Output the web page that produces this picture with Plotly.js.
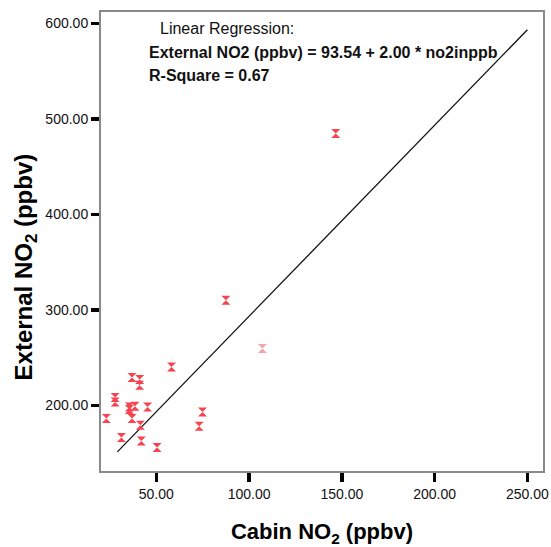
<!DOCTYPE html>
<html>
<head>
<meta charset="utf-8">
<script src="https://cdn.plot.ly/plotly-3.0.1.min.js"></script>
<style>html,body{margin:0;padding:0;background:#fff;}#chart{width:551px;height:547px;}</style>
</head>
<body>
<div id="chart"></div>
<script>
// Data
const cabinNO2 = [146.7, 87.5, 107.2, 58.2, 36.9, 41.0, 41.0, 27.8, 27.8, 35.5, 35.5, 38.5, 45.3, 23.1, 36.9, 41.4, 31.2, 41.9, 50.4, 74.9, 73.1];
const externalNO2 = [484.8, 310.3, 259.7, 240.4, 229.3, 227.2, 221.3, 208.4, 203.8, 198.5, 195.8, 199.3, 198.5, 186.4, 186.4, 179.4, 166.5, 162.9, 156.0, 193.3, 178.3];
const pointColors = ['#f6434f','#f6434f','#f5a3aa','#f6434f','#f6434f','#f6434f','#f6434f','#f6434f','#f6434f','#f6434f','#f6434f','#f6434f','#f6434f','#f6434f','#f6434f','#f6434f','#f6434f','#f6434f','#f6434f','#f6434f','#f6434f'];
const intercept = 93.54;
const slope = 2.00;
const rSquare = 0.67;
const fitX = [29, 250];
const xTicks = [50, 100, 150, 200, 250];
const yTicks = [200, 300, 400, 500, 600];

const fitY = fitX.map(v => intercept + slope * v);

const traces = [
  {
    x: fitX, y: fitY, mode: 'lines', type: 'scatter',
    line: {color: '#111', width: 1.3}, hoverinfo: 'skip', showlegend: false
  },
  {
    x: cabinNO2, y: externalNO2, mode: 'markers', type: 'scatter',
    marker: {symbol: 'hourglass', size: 9, color: pointColors, line: {width: 0}},
    showlegend: false
  }
];

const font = 'Liberation Sans, Arial, sans-serif';
const layout = {
  width: 551, height: 547,
  margin: {l: 101, r: 8, t: 12, b: 76},
  paper_bgcolor: '#fff', plot_bgcolor: '#fff',
  font: {family: font, color: '#111', size: 14},
  showlegend: false,
  xaxis: {
    range: [20.2, 258.4], tickvals: xTicks, ticktext: xTicks.map(v => v.toFixed(2)),
    ticks: 'outside', ticklen: 9, tickwidth: 3.5, tickcolor: '#000',
    showgrid: false, zeroline: false,
    showline: true, mirror: true, linecolor: '#8a8a8a', linewidth: 2,
    tickfont: {family: font, size: 14, color: '#111'},
    title: {text: '<b>Cabin NO<sub>2</sub> (ppbv)</b>', font: {family: font, size: 22, color: '#000'}}
  },
  yaxis: {
    range: [131.5, 612.1], tickvals: yTicks, ticktext: yTicks.map(v => v.toFixed(2)),
    ticks: 'outside', ticklen: 8, tickwidth: 3.5, tickcolor: '#000',
    showgrid: false, zeroline: false,
    showline: true, mirror: true, linecolor: '#8a8a8a', linewidth: 2,
    tickfont: {family: font, size: 14, color: '#111'}
  },
  annotations: [
    {xref: 'paper', yref: 'paper', x: -0.171, y: 0.4444, xanchor: 'center', yanchor: 'middle', showarrow: false,
     textangle: -90, text: '<b>External NO<sub>2</sub> (ppbv)</b>', font: {family: font, size: 24, color: '#000'}},
    {xref: 'paper', yref: 'paper', x: 0.128, y: 0.9645, xanchor: 'left', yanchor: 'middle', showarrow: false,
     text: 'Linear Regression:', font: {family: font, size: 16, color: '#111'}},
    {xref: 'paper', yref: 'paper', x: 0.105, y: 0.911, xanchor: 'left', yanchor: 'middle', showarrow: false,
     text: '<b>External NO2 (ppbv) = ' + intercept.toFixed(2) + ' + ' + slope.toFixed(2) + ' * no2inppb</b>', font: {family: font, size: 16, color: '#111'}},
    {xref: 'paper', yref: 'paper', x: 0.105, y: 0.8606, xanchor: 'left', yanchor: 'middle', showarrow: false,
     text: '<b>R-Square = ' + rSquare.toFixed(2) + '</b>', font: {family: font, size: 16, color: '#111'}}
  ]
};

Plotly.newPlot('chart', traces, layout, {displayModeBar: false, staticPlot: true});
</script>
</body>
</html>
